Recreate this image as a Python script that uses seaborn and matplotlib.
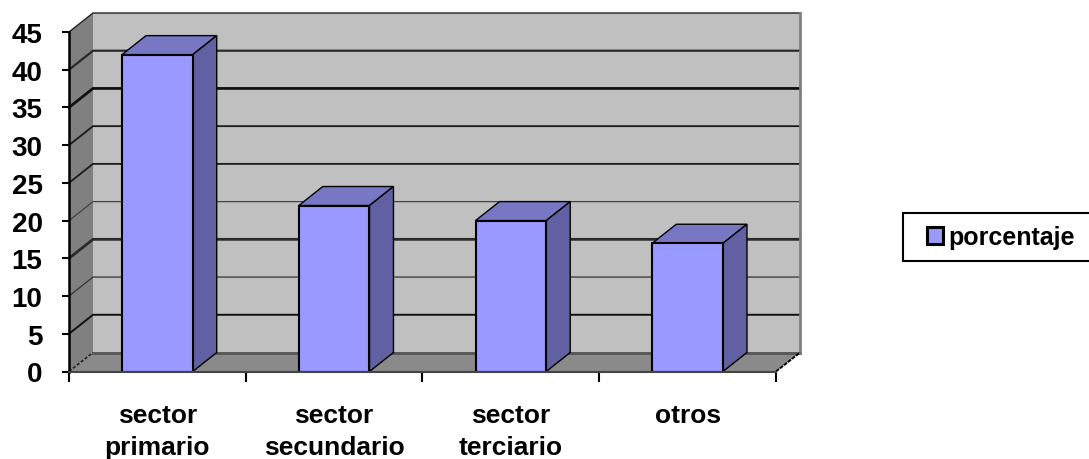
# bar chart with fake 3D look (excel style)
import matplotlib
matplotlib.use("Agg")
import matplotlib.pyplot as plt
import pandas as pd
import seaborn as sns
from matplotlib.patches import Polygon, Rectangle

categorias = ["sector\nprimario", "sector\nsecundario", "sector\nterciario", "otros"]
porcentaje = [42, 22, 20, 17]
y_ticks = [0, 5, 10, 15, 20, 25, 30, 35, 40, 45]
serie = "porcentaje"

# gridlines in the reference come out uneven: (line width, colour)
grid_style = {5: (1.4, "#111111"), 10: (0.9, "#333333"), 15: (2.0, "#2a2a2a"),
              20: (0.9, "#444444"), 25: (1.3, "#1a1a1a"), 30: (1.3, "#1a1a1a"),
              35: (2.0, "#111111"), 40: (1.6, "#2a2a2a"), 45: (1.0, "#222222")}

plt.rcParams["font.family"] = ["Liberation Sans", "DejaVu Sans"]
plt.rcParams["font.weight"] = "bold"

W, H = 1089, 460
fig = plt.figure(figsize=(W / 100, H / 100), dpi=100)
ax = fig.add_axes([69 / W, (H - 372.5) / H, 707 / W, 339.5 / H])

df = pd.DataFrame({"cat": categorias, "val": porcentaje})
sns.barplot(data=df, x="cat", y="val", color="#9999ff", saturation=1, width=0.4,
            edgecolor="black", linewidth=1.5, label=serie, ax=ax, zorder=5)

ax.set_xlim(-0.5, 3.5)
ax.set_ylim(0, 45)
ax.set_xlabel("")
ax.set_ylabel("")
ax.patch.set_visible(False)

# depth of the fake 3D, in data units (24px right, 19px up)
dx = 24 / 707 * 4
dy = 19 / 339.5 * 45
x0, x1 = ax.get_xlim()
y0, y1 = ax.get_ylim()


def poly(pts, color, z, ec="none", lw=0):
    ax.add_patch(Polygon(pts, closed=True, facecolor=color, edgecolor=ec, linewidth=lw,
                         zorder=z, clip_on=False))


# walls and floor
poly([(x0 + dx, y0 + dy), (x1 + dx, y0 + dy), (x1 + dx, y1 + dy), (x0 + dx, y1 + dy)], "#c0c0c0", 1)
poly([(x0, y0), (x0 + dx, y0 + dy), (x0 + dx, y1 + dy), (x0, y1)], "#808080", 1)
poly([(x0, y0), (x1, y0), (x1 + dx, y0 + dy), (x0 + dx, y0 + dy)], "#8a8a8a", 1.5)

# gridlines run along the back wall and down the side wall
for t in y_ticks[1:]:
    lw, col = grid_style[t]
    ax.plot([x0, x0 + dx, x1 + dx], [t, t + dy, t + dy], color=col, lw=lw,
            zorder=2, clip_on=False)
ax.plot([x0, x0 + dx], [y0, y0 + dy], color="#222222", lw=1.2, ls=(0, (2, 1)), zorder=2, clip_on=False)
ax.plot([x0 + dx, x1 + dx], [y0 + dy, y0 + dy], color="#555555", lw=2, zorder=2, clip_on=False)
ax.plot([x1 + dx, x1 + dx], [y0 + dy, y1 + dy], color="#808080", lw=2, zorder=2, clip_on=False)
ax.plot([x1, x1 + dx], [y0, y0 + dy], color="black", lw=1.4, ls=(0, (2, 0.6)), zorder=3, clip_on=False)

# top and side of each bar
for b in ax.containers[0]:
    l, r, h = b.get_x(), b.get_x() + b.get_width(), b.get_height()
    poly([(l, h), (r, h), (r + dx, h + dy), (l + dx, h + dy)], "#7777c4", 4, "black", 1)
    poly([(r, 0), (r + dx, dy), (r + dx, h + dy), (r, h)], "#6060a2", 4, "black", 1)

sns.despine(ax=ax, top=True, right=True)
ax.spines["left"].set_linewidth(1.8)
ax.spines["left"].set_zorder(3)
ax.spines["bottom"].set_color("#444444")
ax.spines["bottom"].set_linewidth(1.5)
ax.spines["bottom"].set_zorder(6)

ax.set_yticks(y_ticks)
ax.tick_params(axis="y", length=5, width=1.5, labelsize=20, pad=14)
ax.set_xticks(range(len(categorias)))
ax.set_xticklabels(categorias, linespacing=1.4, va="top")
ax.tick_params(axis="x", which="major", length=0, labelsize=19, pad=23)
ax.set_xticks([i - 0.5 for i in range(len(categorias) + 1)], minor=True)
ax.tick_params(axis="x", which="minor", length=7, width=1.5)

# legend box runs off the right edge, so the frame is drawn on its own
fig.add_artist(Rectangle((903 / W, (H - 262) / H), 200 / W, 48 / H, transform=fig.transFigure,
                         facecolor="white", edgecolor="black", linewidth=1.5, zorder=-1))
leg = ax.legend(loc="center left", bbox_to_anchor=(927 / W, (H - 238) / H),
                bbox_transform=fig.transFigure, frameon=False, fontsize=18,
                handlelength=0.65, handleheight=0.65, handletextpad=0.2,
                borderaxespad=0, borderpad=0)
leg.legend_handles[0].set_linewidth(2.2)

fig.savefig("out.png", dpi=100)
